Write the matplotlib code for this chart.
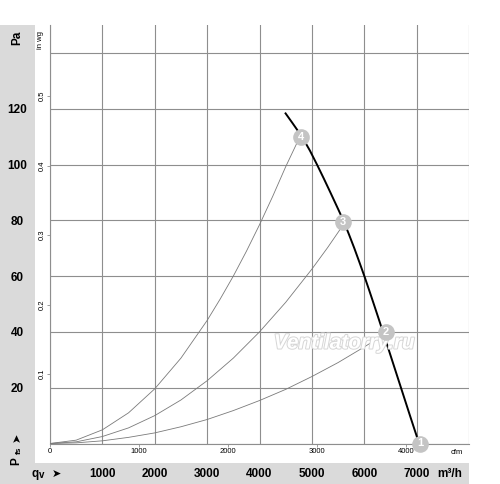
import matplotlib
matplotlib.use("Agg")
import matplotlib.pyplot as plt
from matplotlib.patches import Rectangle
import matplotlib.patheffects as pe

plt.rcParams['font.family'] = ['Liberation Sans', 'DejaVu Sans']

# ---- data (m3/h, Pa) ----
fan_q = [4487, 4624, 4810, 4962, 5097, 5227, 5353, 5477, 5600, 5707, 5810, 5907, 6002,
         6093, 6182, 6270, 6357, 6443, 6529, 6615, 6701, 6787, 6873, 6960, 7048]
fan_p = [118.6, 115, 110, 105, 100, 95, 90, 85, 80, 75, 70, 65, 60,
         55, 50, 45, 40, 35, 30, 25, 20, 15, 10, 5, 0]

sys4_q = [0, 500, 1000, 1500, 2000, 2500, 3000, 3250, 3500, 3750, 4000, 4250, 4500, 4760]
sys4_p = [0, 1.2, 4.9, 11.0, 19.6, 30.6, 44.1, 51.8, 60.0, 68.9, 78.4, 88.5, 99.2, 109.5]

sys3_q = [0, 500, 1000, 1500, 2000, 2500, 3000, 3500, 4000, 4500, 5000, 5300, 5600]
sys3_p = [0, 0.6, 2.5, 5.6, 10.0, 15.6, 22.5, 30.6, 40.0, 50.6, 62.5, 70.2, 78.4]

sys2_q = [0, 500, 1000, 1500, 2000, 2500, 3000, 3500, 4000, 4500, 5000, 5500, 6000, 6415]
sys2_p = [0, 0.24, 0.96, 2.2, 3.8, 6.0, 8.6, 11.8, 15.4, 19.4, 24.0, 29.0, 34.6, 39.5]

op_q = [7064, 6415, 5600, 4786]
op_p = [0, 40, 79.5, 109.9]
op_labels = ['1', '2', '3', '4']

pa_ticks = [0, 20, 40, 60, 80, 100, 120, 140]
pa_labels = ['', '20', '40', '60', '80', '100', '120', '']
q_ticks = [0, 1000, 2000, 3000, 4000, 5000, 6000, 7000, 8000]
q_labels = ['', '1000', '2000', '3000', '4000', '5000', '6000', '7000', '']
cfm_ticks = [0, 1000, 2000, 3000, 4000]
inwg_ticks = [0.1, 0.2, 0.3, 0.4, 0.5]

W, H = 500, 484
fig = plt.figure(figsize=(W / 100, H / 100), dpi=100)

def fx(x):
    return x / W

def fy(y):
    return 1 - y / H

strip = '#dadada'
fig.patches.append(Rectangle((0, 0), fx(35), fy(25), transform=fig.transFigure,
                             facecolor=strip, edgecolor='none', zorder=-1))
fig.patches.append(Rectangle((0, 0), fx(469), 21 / H, transform=fig.transFigure,
                             facecolor=strip, edgecolor='none', zorder=-1))

ax = fig.add_axes([fx(50), fy(443.5), fx(469) - fx(50), fy(25) - fy(443.5)])
ax.set_facecolor('none')
ax.set_zorder(1)
ax.set_xlim(0, 8000)
ax.set_ylim(0, 150)

gc = '#8e8e8e'
ax.set_xticks(q_ticks)
ax.set_xticklabels(q_labels)
ax.set_yticks(pa_ticks)
ax.set_yticklabels(pa_labels)
ax.grid(True, color=gc, lw=0.8)
ax.set_axisbelow(True)
for s in ['top', 'right']:
    ax.spines[s].set_visible(False)
for s in ['left', 'bottom']:
    ax.spines[s].set_color(gc)
    ax.spines[s].set_linewidth(0.8)

ax.tick_params(axis='y', length=0, pad=23.8, labelsize=8.5)
for t in ax.get_yticklabels():
    t.set_fontweight('bold')
    t.set_ha('center')
ax.tick_params(axis='x', length=0, pad=22, labelsize=8.5)
for t in ax.get_xticklabels():
    t.set_fontweight('bold')
    t.set_va('center')

# secondary axes: cfm and in wg
cfm = ax.secondary_xaxis('bottom', functions=(lambda q: q / 1.699, lambda c: c * 1.699))
cfm.set_xticks(cfm_ticks)
cfm.tick_params(length=2.5, width=0.6, color=gc, labelsize=5.5, pad=1)
cfm.spines['bottom'].set_visible(False)

inwg = ax.secondary_yaxis('left', functions=(lambda p: p / 249.089, lambda w: w * 249.089))
inwg.set_yticks(inwg_ticks)
inwg.set_yticklabels([str(v) for v in inwg_ticks])
inwg.tick_params(length=2, width=0.6, color=gc, labelsize=5.5, pad=1, labelrotation=90)
for t in inwg.get_yticklabels():
    t.set_va('center')
inwg.spines['left'].set_visible(False)

# curves
sc = '#7a7a7a'
ax.plot(sys4_q, sys4_p, color=sc, lw=0.6, zorder=3)
ax.plot(sys3_q, sys3_p, color=sc, lw=0.6, zorder=3)
ax.plot(sys2_q, sys2_p, color=sc, lw=0.6, zorder=3)
ax.plot(fan_q, fan_p, color='black', lw=1.4, zorder=4, solid_capstyle='butt',
        solid_joinstyle='round')

ax.text(5620, 36, 'Ventilatorry.ru', fontsize=15, fontweight='bold', fontstyle='italic',
        color='white', ha='center', va='center', zorder=5,
        path_effects=[pe.withStroke(linewidth=1.4, foreground='#d6d6d6')])

ax.plot(op_q, op_p, 'o', ms=12, color='#c4c4c4', mec='none', zorder=6, clip_on=False)
for q, p, lab in zip(op_q, op_p, op_labels):
    ax.text(q, p, lab, color='white', fontsize=8, fontweight='bold',
            ha='center', va='center', zorder=7, clip_on=False)

# axis titles
fig.text(fx(17.5), fy(38), 'Pa', rotation=90, fontsize=8.5, fontweight='bold',
         ha='center', va='center')
fig.text(fx(40.5), fy(40), 'in wg', rotation=90, fontsize=5.5, ha='center', va='center')
fig.text(fx(457), fy(452), 'cfm', fontsize=5.5, ha='center', va='center')
fig.text(fx(449.5), fy(474), 'm³/h', fontsize=8.5, fontweight='bold', ha='center', va='center')
fig.text(fx(35), fy(474), 'q', fontsize=8.5, fontweight='bold', ha='center', va='center')
fig.text(fx(42), fy(475), 'v', fontsize=7, fontweight='bold', ha='center', va='center')
fig.text(fx(56), fy(474), '➤', fontsize=8, family=['DejaVu Sans'], ha='center', va='center')
fig.text(fx(16.5), fy(461), 'P', rotation=90, fontsize=8.5, fontweight='bold',
         ha='center', va='center')
fig.text(fx(19), fy(450.5), 'fs', rotation=90, fontsize=6, fontweight='bold',
         ha='center', va='center')
fig.text(fx(17), fy(437), '➤', rotation=90, fontsize=8, family=['DejaVu Sans'],
         ha='center', va='center')

fig.savefig('out.png', dpi=100)
